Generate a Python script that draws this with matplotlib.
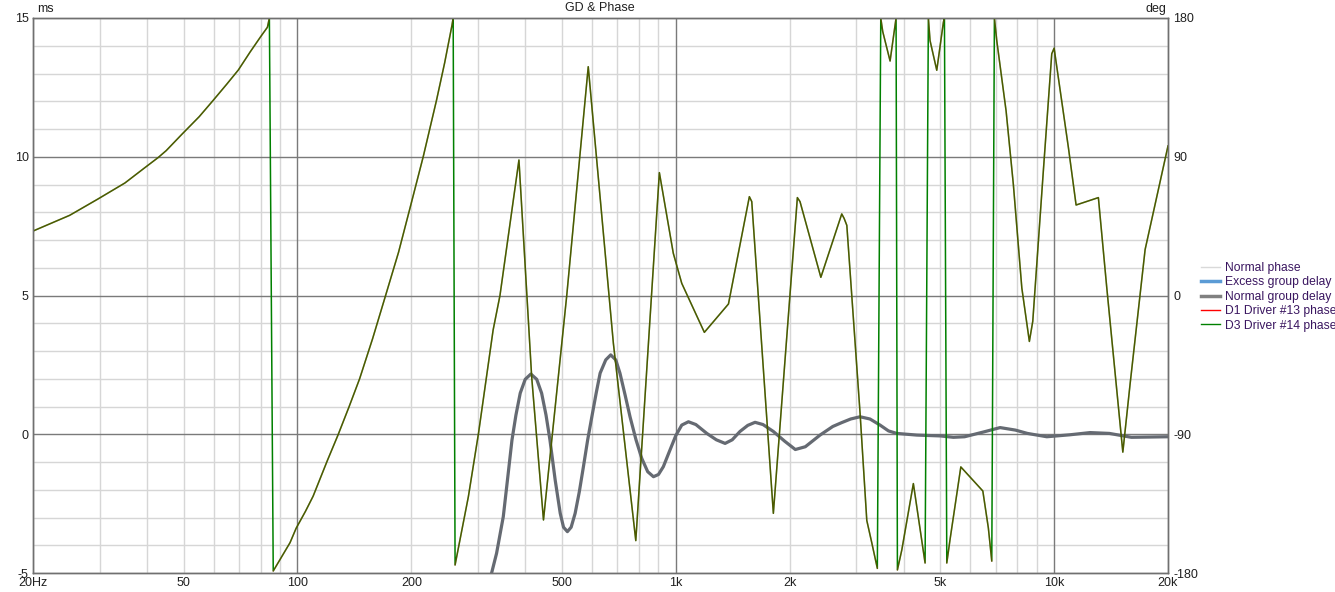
import numpy as np
import matplotlib.pyplot as plt
from matplotlib.lines import Line2D
from matplotlib.ticker import FixedLocator, NullFormatter

plt.rcParams["font.family"] = ["Liberation Sans", "DejaVu Sans"]
plt.rcParams["axes.unicode_minus"] = False

# phase of the two drivers (Hz, degrees)
phase_freq = [20, 25, 29.7, 35, 39.5, 42.9, 45, 49.6, 55, 59.7, 65, 69.8, 75, 80, 83.3, 84.3,
              86.3, 95.6, 99.2, 105, 110, 120, 128, 137, 146, 158, 171, 185, 198, 215, 233,
              245, 256, 258, 261, 283, 301, 329, 343, 385, 416, 447, 515,
              587, 684, 784, 905, 985, 1037, 1190, 1378, 1565, 1588, 1811, 2096, 2130,
              2418, 2746, 2786, 2832, 3070, 3198, 3296, 3410, 3482, 3524, 3685, 3822,
              3853, 3958, 4246, 4560, 4652, 4700, 4896, 5098, 5130, 5204, 5310, 5668,
              6480, 6702, 6843, 6953, 7054, 7466, 7804, 8216, 8602, 8782, 9370, 9858,
              10000, 10911, 11432, 13092, 13780, 15193, 15880, 17400, 20000]
phase_deg = [41.8, 52, 62.6, 73, 82.9, 89.6, 94, 104.8, 116, 126.2, 137, 146.3, 158, 168, 174, 180,
             -178.7, -160.3, -151, -140, -130.2, -107, -90.5, -72, -54, -28, 0, 28, 55.9, 90,
             126.4, 151, 175, 180, -174.8, -130.5, -89.4, -22.4, 0,
             87.9, -52.7, -145.6, 0, 148.4, -31, -159, 79.7, 27.4, 7.9, -23.9, -5.5, 64.1,
             60.9, -141.3, 63.5, 60.9, 11.8, 52.9, 50, 45.5, -76.4, -145.9, -160.3, -177,
             180, 171.2, 152.1, 180, -178, -165, -122, -173.5, 180, 165.3, 146.1, 177.3,
             180, -173.5, -158, -111.2, -126.8, -150.8, -172.3, 180, 165.3, 119.7, 71.9,
             4.9, -29.8, -16.7, 81.5, 156.8, 160.4, 95.8, 58.7, 63.5, 4.9, -101.6, -57.4,
             29.8, 97]

# normal group delay (Hz, ms)
gd_freq = [320, 326, 336, 350, 359, 369, 378, 388, 400, 414, 429, 442, 454, 465, 480, 495,
           505, 517, 529, 542, 556, 570, 585, 600, 616, 631, 653, 673, 694, 712, 735, 757,
           785, 813, 843, 873, 900, 927, 960, 1000, 1037, 1080, 1130, 1208, 1280, 1350,
           1410, 1478, 1550, 1620, 1700, 1811, 1940, 2070, 2200, 2406, 2600, 2746, 2900,
           3070, 3260, 3467, 3650, 3838, 4336, 5000, 5417, 5800, 6500, 7198, 7900, 8500,
           9564, 11000, 12446, 14000, 16000, 18000, 20000]
gd_ms = [-5.3, -5.0, -4.29, -2.97, -1.65, -0.21, 0.69, 1.48, 1.98, 2.17, 1.98, 1.48, 0.69,
         -0.21, -1.65, -2.85, -3.35, -3.51, -3.35, -2.85, -2.07, -1.17, -0.2, 0.63, 1.48, 2.2,
         2.68, 2.86, 2.68, 2.2, 1.4, 0.63, -0.2, -0.87, -1.35, -1.53, -1.45, -1.17, -0.65,
         -0.05, 0.33, 0.45, 0.35, 0.03, -0.2, -0.33, -0.2, 0.1, 0.32, 0.43, 0.35, 0.1, -0.25,
         -0.55, -0.45, -0.03, 0.28, 0.42, 0.55, 0.63, 0.55, 0.33, 0.12, 0.03, -0.03, -0.06,
         -0.11, -0.09, 0.08, 0.24, 0.15, 0.03, -0.09, -0.02, 0.06, 0.03, -0.11, -0.1, -0.09]

x_ticks = [20, 50, 100, 200, 500, 1000, 2000, 5000, 10000, 20000]
x_labels = ["20Hz", "50", "100", "200", "500", "1k", "2k", "5k", "10k", "20k"]
ms_ticks = [-5, 0, 5, 10, 15]
deg_ticks = [-180, -90, 0, 90, 180]

text_col = "#202020"
light = "#d6d6d6"
dark = "#7a7a7a"

fig = plt.figure(figsize=(13.35, 5.92), dpi=100)
ax = fig.add_axes([33 / 1335, 1 - 573 / 592, (1168 - 33) / 1335, (573 - 18) / 592])
ax.set_xscale("log")
ax.set_xlim(20, 20000)
ax.set_ylim(-5, 15)

# grid
minor_x = [f * d for d in (10, 100, 1000, 10000) for f in range(2, 10) if 20 <= f * d <= 20000]
for f in minor_x:
    if f not in (100, 1000, 10000):
        ax.axvline(f, color=light, lw=1, zorder=0)
for f in (100, 1000, 10000):
    ax.axvline(f, color=dark, lw=1, zorder=0.5)
for v in range(-5, 16):
    ax.axhline(v, color=dark if v in (0, 5, 10) else light, lw=1,
               zorder=0.5 if v in (0, 5, 10) else 0)

ax.plot(gd_freq, gd_ms, color="#656a72", lw=2.3, zorder=3,
        solid_capstyle="round", solid_joinstyle="round")

ax.xaxis.set_major_locator(FixedLocator(x_ticks))
ax.xaxis.set_minor_locator(FixedLocator([]))
ax.xaxis.set_minor_formatter(NullFormatter())
ax.set_xticklabels(x_labels)
ax.set_yticks(ms_ticks)
ax.tick_params(length=0, labelsize=9, colors=text_col, pad=3)
ax.tick_params(axis="x", pad=3)

ax2 = ax.twinx()
ax2.set_ylim(-180, 180)
ax2.set_yticks(deg_ticks)
ax2.tick_params(length=0, labelsize=9, colors=text_col, pad=4)

# red trace is broken where the phase wraps, green one is drawn through
pf = np.array(phase_freq, dtype=float)
pdg = np.array(phase_deg, dtype=float)
wraps = np.where(np.abs(np.diff(pdg)) > 300)[0] + 1
red_f = np.insert(pf, wraps, np.nan)
red_d = np.insert(pdg, wraps, np.nan)
ax2.plot(pf, pdg, color="#008000", lw=1.1)
ax2.plot(red_f, red_d, color="#ff0000", lw=1.1, alpha=0.3)

for a in (ax, ax2):
    for s in a.spines.values():
        s.set_color("#707070")
        s.set_linewidth(1)

fig.text(37 / 1335, 1 - 9 / 592, "ms", fontsize=9, color=text_col, va="center", ha="left")
fig.text(1166 / 1335, 1 - 9 / 592, "deg", fontsize=9, color=text_col, va="center", ha="right")
fig.text(600 / 1335, 1 - 8 / 592, "GD & Phase", fontsize=9, color=text_col, va="center", ha="center")

handles = [
    Line2D([], [], color="#d9d9d9", lw=1),
    Line2D([], [], color="#5b9bd5", lw=2.5),
    Line2D([], [], color="#808080", lw=2.5),
    Line2D([], [], color="#ff0000", lw=1),
    Line2D([], [], color="#008000", lw=1),
]
labels = ["Normal phase", "Excess group delay", "Normal group delay",
          "D1 Driver #13 phase", "D3 Driver #14 phase"]
leg = fig.legend(handles, labels, loc="upper left", bbox_to_anchor=(1201 / 1335, 1 - 262 / 592),
                 frameon=False, fontsize=8.7, handlelength=1.6, handletextpad=0.4,
                 labelspacing=0.2, borderaxespad=0, borderpad=0)
for t in leg.get_texts():
    t.set_color("#3a1660")

fig.savefig("out.png", dpi=100)
